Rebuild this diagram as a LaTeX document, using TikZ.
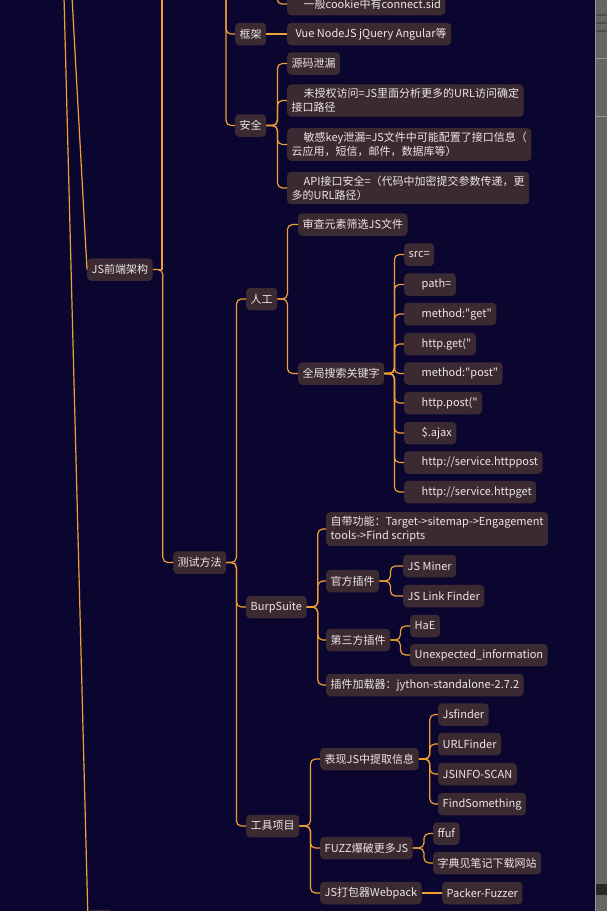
\documentclass[tikz,border=0pt]{standalone}
\usepackage{fontspec}
\setmainfont{Noto Sans CJK SC}[Ligatures=TeXOff]
\definecolor{bgnavy}{HTML}{0B0630}
\definecolor{boxfill}{HTML}{3B2A32}
\definecolor{boxtext}{HTML}{EDE6E6}
\definecolor{branch}{HTML}{F0A030}
\definecolor{panelgray}{HTML}{666666}
\tikzset{
  topic/.style={fill=boxfill, text=boxtext, rounded corners=4pt, anchor=west,
    inner xsep=4.5pt, inner ysep=4pt, minimum height=22.5pt, align=left,
    font=\fontsize{11}{14}\selectfont},
  link/.style={draw=branch, line width=1.2pt, rounded corners=5pt},
}
\begin{document}
\begin{tikzpicture}[x=1pt, y=-1pt]
    %sfondo
    \useasboundingbox (0,0) rectangle (607,911);
    \clip (0,0) rectangle (607,911);
    \fill[bgnavy] (0,0) rectangle (607,911);
    %pannello grigio a destra
    \fill[panelgray] (595,0) rectangle (607,911);
    \draw[gray!80, line width=0.6pt] (595.3,0) -- (595.3,911);
    \draw[black!70, line width=1.6pt] (596,15) -- (607,15) (596,23) -- (607,23) (596,31) -- (607,31);
    \draw[black!40, line width=0.5pt] (596,58) -- (607,58) (596,116) -- (607,116);
    \fill[black!60!panelgray] (596,884) rectangle (607,895);

    %nodi del ramo in alto
    \node[topic] (cookie) at (287,4) {\hspace*{12pt}一般cookie中有connect.sid};
    \node[topic] (kuangjia) at (235,34) {框架};
    \node[topic] (vue) at (287,34) {\hspace*{4pt}Vue NodeJS jQuery Angular等};
    \node[topic] (anquan) at (235,125.5) {安全};
    \node[topic] (yuanma) at (287,63.5) {源码泄漏};
    \node[topic] (weishouquan) at (287,100.5) {\hspace*{12pt}未授权访问=JS里面分析更多的URL访问确定\\接口路径};
    \node[topic] (minggan) at (287,144.5) {\hspace*{12pt}敏感key泄漏=JS文件中可能配置了接口信息（\\云应用，短信，邮件，数据库等）};
    \node[topic] (apiaq) at (287,188) {\hspace*{12pt}API接口安全=（代码中加密提交参数传递，更\\多的URL路径）};
    \node[topic] (jsqd) at (87,269.5) {JS前端架构};

    %testing
    \node[topic] (ceshi) at (173,562.5) {测试方法};
    \node[topic] (rengong) at (246,299) {人工};
    \node[topic] (shencha) at (298,224.5) {审查元素筛选JS文件};
    \node[topic] (quanju) at (298,373.5) {全局搜索关键字};
    \node[topic] (kwsrc) at (404,254.5) {src=};
    \node[topic] (kwpath) at (404,284.5) {\hspace*{13pt}path=};
    \node[topic] (kwget) at (404,314) {\hspace*{13pt}method:"get"};
    \node[topic] (kwhget) at (404,344) {\hspace*{13pt}http.get("};
    \node[topic] (kwpost) at (404,373.5) {\hspace*{13pt}method:"post"};
    \node[topic] (kwhpost) at (404,403) {\hspace*{13pt}http.post("};
    \node[topic] (kwajax) at (404,433) {\hspace*{13pt}\$.ajax};
    \node[topic] (kwsvpost) at (404,462.5) {\hspace*{13pt}http://service.httppost};
    \node[topic] (kwsvget) at (404,492) {\hspace*{13pt}http://service.httpget};

    %burpsuite
    \node[topic] (burp) at (246,607) {BurpSuite};
    \node[topic] (zidai) at (326,529) {自带功能：Target->sitemap->Engagement\\tools->Find scripts};
    \node[topic] (guanfang) at (326,581) {官方插件};
    \node[topic] (jsminer) at (403,566) {JS Miner};
    \node[topic] (jslink) at (403,596) {JS Link Finder};
    \node[topic] (disanfang) at (326,640) {第三方插件};
    \node[topic] (hae) at (410,626) {HaE};
    \node[topic] (unexp) at (410,655) {Unexpected\_information};
    \node[topic] (jiazai) at (326,685) {插件加载器：jython-standalone-2.7.2};

    %tools
    \node[topic] (gongju) at (246,826) {工具项目};
    \node[topic] (biaoxian) at (320,759) {表现JS中提取信息};
    \node[topic] (jsfinder) at (438,714.5) {Jsfinder};
    \node[topic] (urlfinder) at (438,744) {URLFinder};
    \node[topic] (jsinfo) at (438,774) {JSINFO-SCAN};
    \node[topic] (findsth) at (438,804) {FindSomething};
    \node[topic] (fuzz) at (320,848) {FUZZ爆破更多JS};
    \node[topic] (ffuf) at (433,833.5) {ffuf};
    \node[topic] (zidian) at (433,863) {字典见笔记下载网站};
    \node[topic] (dabao) at (320,893) {JS打包器Webpack};
    \node[topic] (packer) at (442,893) {Packer-Fuzzer};
    \node[topic, minimum width=24pt] (bottomtopic) at (88,921) {};

    %coordinate fuori quadro
    \coordinate (rootA) at (72,-3);
    \coordinate (rootB) at (64,-3);
    \coordinate (topjs) at (162,-20);
    \coordinate (topfront) at (226,-20);
    \coordinate (topcookie) at (277,-20);

    %linee
    \draw[link] (rootA) -- (jsqd.west);
    \draw[link] (rootB) -- (bottomtopic.west);
    \draw[link, rounded corners=0pt] (jsqd.east) -| (topjs);
    \draw[link] (jsqd.east) -- ++(10,0) |- (ceshi.west);
    \draw[link] (topfront) |- (kuangjia.west);
    \draw[link] (topfront) |- (anquan.west);
    \draw[link] (topcookie) |- (cookie.west);
    \draw[link] (kuangjia.east) -- (vue.west);
    \foreach \c in {yuanma, weishouquan, minggan, apiaq}
        \draw[link] (anquan.east) -- ++(11,0) |- (\c.west);
    \foreach \c in {rengong, burp, gongju}
        \draw[link] (ceshi.east) -- ++(10,0) |- (\c.west);
    \foreach \c in {shencha, quanju}
        \draw[link] (rengong.east) -- ++(10,0) |- (\c.west);
    \foreach \c in {kwsrc, kwpath, kwget, kwhget, kwpost, kwhpost, kwajax, kwsvpost, kwsvget}
        \draw[link] (quanju.east) -- ++(10,0) |- (\c.west);
    \foreach \c in {zidai, guanfang, disanfang, jiazai}
        \draw[link] (burp.east) -- ++(11,0) |- (\c.west);
    \foreach \c in {jsminer, jslink}
        \draw[link] (guanfang.east) -- ++(11,0) |- (\c.west);
    \foreach \c in {hae, unexp}
        \draw[link] (disanfang.east) -- ++(10,0) |- (\c.west);
    \foreach \c in {biaoxian, fuzz, dabao}
        \draw[link] (gongju.east) -- ++(11,0) |- (\c.west);
    \foreach \c in {jsfinder, urlfinder, jsinfo, findsth}
        \draw[link] (biaoxian.east) -- ++(11,0) |- (\c.west);
    \foreach \c in {ffuf, zidian}
        \draw[link] (fuzz.east) -- ++(11,0) |- (\c.west);
    \draw[link] (dabao.east) -- (packer.west);
\end{tikzpicture}
\end{document}
